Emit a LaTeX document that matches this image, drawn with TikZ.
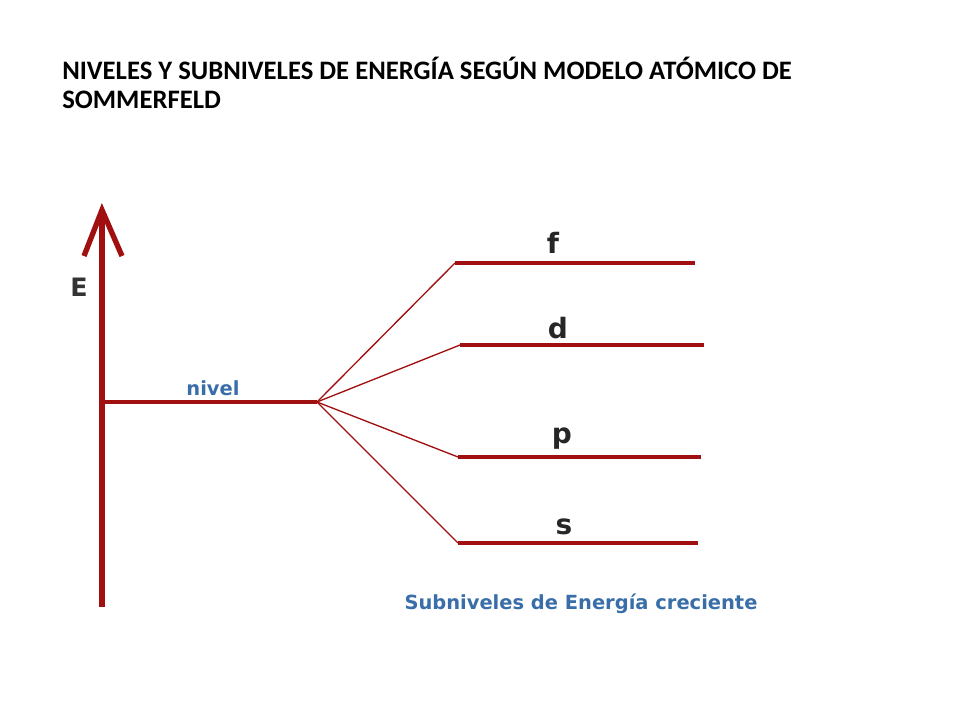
\documentclass[tikz,border=0pt]{standalone}
\usepackage{fontspec}
\setmainfont{Carlito}
\newfontfamily\vfont{DejaVu Sans}
\definecolor{dred}{HTML}{A01010}
\definecolor{lblue}{HTML}{3A6EA8}
\begin{document}
\begin{tikzpicture}[x=0.75pt,y=-0.75pt,
  lvl/.style={draw=dred,line width=2.5pt},
  br/.style={draw=dred,line width=1pt},
  sub/.style={font=\vfont\bfseries\fontsize{21}{21}\selectfont,text=black!85,inner sep=0pt},
  blu/.style={font=\vfont\bfseries\fontsize{14.6}{15}\selectfont,text=lblue,inner sep=0pt}]
\useasboundingbox (0,0) rectangle (960,720);
\node[anchor=west,font=\bfseries\fontsize{20}{20}\selectfont,inner sep=0pt] (t1) at (62,68) {NIVELES Y SUBNIVELES DE ENERGÍA SEGÚN MODELO ATÓMICO DE};
\node[anchor=west,font=\bfseries\fontsize{20}{20}\selectfont,inner sep=0pt] (t2) at (62,100) {SOMMERFELD};
\coordinate (bot) at (102,607);
\coordinate (top) at (102,210);
\coordinate (al) at (84,256);
\coordinate (ar) at (122,256);
\draw[dred,line width=4pt] (bot) -- (top);
\draw[dred,line width=4pt,line join=miter] (al) -- (top) -- (ar);
\node[font=\vfont\bfseries\fontsize{19}{19}\selectfont,text=black!80,inner sep=0pt] (E) at (79,287) {E};
\coordinate (n0) at (102,402);
\coordinate (n1) at (317,402);
\draw[lvl] (n0) -- (n1);
\node[blu] (niv) at (213,388) {nivel};
\coordinate (f0) at (455,263); \coordinate (f1) at (695,263);
\coordinate (d0) at (460,345); \coordinate (d1) at (704,345);
\coordinate (p0) at (458,457); \coordinate (p1) at (701,457);
\coordinate (s0) at (458,543); \coordinate (s1) at (698,543);
\foreach \a in {f,d,p,s}{\draw[br] (n1) -- (\a0); \draw[lvl] (\a0) -- (\a1);}
\node[sub] (lf) at (553,243) {f};
\node[sub] (ld) at (558,328) {d};
\node[sub] (lp) at (562,439) {p};
\node[sub] (ls) at (564,527) {s};
\node[blu] (cap) at (581,604) {Subniveles de Energía creciente};
\end{tikzpicture}
\end{document}
